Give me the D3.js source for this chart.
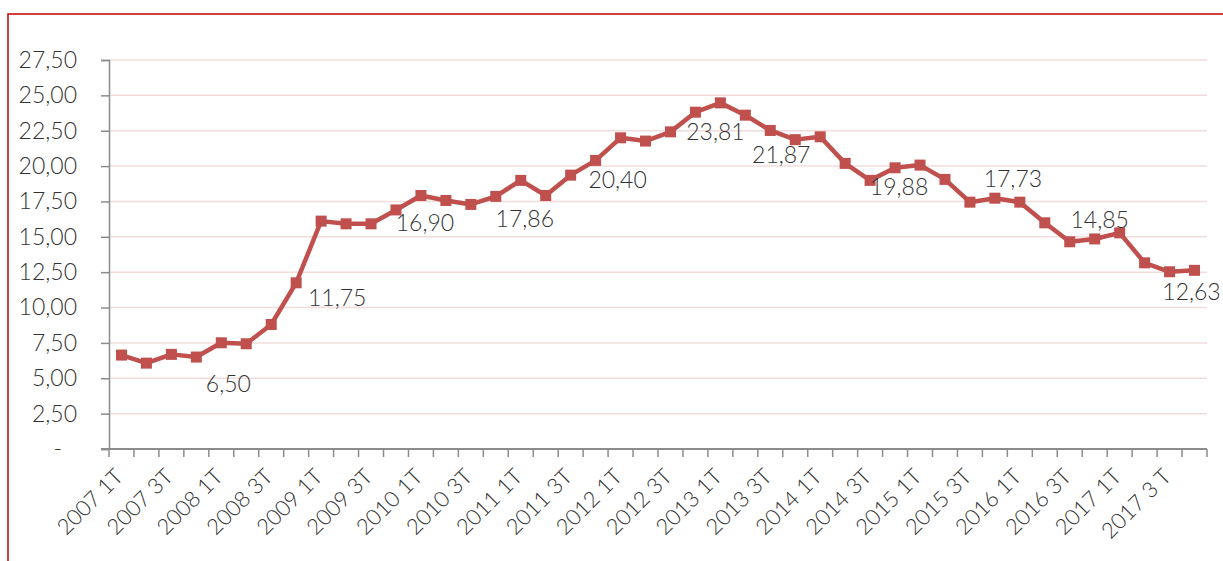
<!DOCTYPE html>
<html>
<head>
<meta charset="utf-8">
<script src="https://cdn.jsdelivr.net/npm/d3@7"></script>
<style>
  body { margin: 0; background: #fff; }
  svg text { font-family: Lato, "Open Sans", sans-serif; font-weight: 300; fill: #333; }
</style>
</head>
<body>
<div id="chart"></div>
<script>
// quarterly series, 2007 1T .. 2017 4T
const categories = [
  "2007 1T","2007 2T","2007 3T","2007 4T","2008 1T","2008 2T","2008 3T","2008 4T",
  "2009 1T","2009 2T","2009 3T","2009 4T","2010 1T","2010 2T","2010 3T","2010 4T",
  "2011 1T","2011 2T","2011 3T","2011 4T","2012 1T","2012 2T","2012 3T","2012 4T",
  "2013 1T","2013 2T","2013 3T","2013 4T","2014 1T","2014 2T","2014 3T","2014 4T",
  "2015 1T","2015 2T","2015 3T","2015 4T","2016 1T","2016 2T","2016 3T","2016 4T",
  "2017 1T","2017 2T","2017 3T","2017 4T"
];

const values = [
  6.64, 6.07, 6.69, 6.50, 7.51, 7.44, 8.80, 11.75,
  16.11, 15.92, 15.92, 16.90, 17.92, 17.57, 17.29, 17.86,
  18.99, 17.92, 19.36, 20.40, 22.00, 21.77, 22.42, 23.81,
  24.47, 23.60, 22.52, 21.87, 22.07, 20.19, 18.99, 19.88,
  20.07, 19.06, 17.45, 17.73, 17.45, 15.99, 14.65, 14.85,
  15.28, 13.16, 12.53, 12.63
];

// every other category carries a label on the axis
const tickCategories = categories.filter((d, i) => i % 2 === 0);
const tickLabels = [
  "2007 1T","2007 3T","2008 1T","2008 3T","2009 1T","2009 3T","2010 1T","2010 3T",
  "2011 1T","2011 3T","2012 1T","2012 3T","2013 1T","2013 3T","2014 1T","2014 3T",
  "2015 1T","2015 3T","2016 1T","2016 3T","2017 1T","2017 3 T"
];

const yTicks = [0, 2.5, 5, 7.5, 10, 12.5, 15, 17.5, 20, 22.5, 25, 27.5];

// data labels on the 4T of every year
const labelled = ["2007 4T","2008 4T","2009 4T","2010 4T","2011 4T","2012 4T",
                  "2013 4T","2014 4T","2015 4T","2016 4T","2017 4T"];

// manual label nudges (px), as placed in the original chart
const labelNudge = {
  "2007 4T": [32, 27], "2008 4T": [41, 15], "2009 4T": [29, 13], "2010 4T": [29, 22],
  "2011 4T": [22, 19], "2012 4T": [20, 20], "2013 4T": [-14, 15], "2014 4T": [4, 19],
  "2015 4T": [18, -19], "2016 4T": [5, -19], "2017 4T": [-3, 21]
};

const width = 1223, height = 561;
const margin = { top: 60, right: 16, bottom: 112, left: 109 };

const locale = d3.formatLocale({ decimal: ",", thousands: ".", grouping: [3], currency: ["", "€"] });
const fmt = locale.format(".2f");

const svg = d3.select("#chart").append("svg")
  .attr("width", width)
  .attr("height", height);

// red frame, runs off the right and bottom edges
svg.append("rect")
  .attr("x", 8).attr("y", 14)
  .attr("width", width + 50).attr("height", height + 50)
  .attr("fill", "none")
  .attr("stroke", "#c00000")
  .attr("stroke-width", 1.5);

const x = d3.scaleBand()
  .domain(categories)
  .range([margin.left, width - margin.right])
  .paddingInner(0).paddingOuter(0);

const y = d3.scaleLinear()
  .domain([0, 27.5])
  .range([height - margin.bottom, margin.top]);

const cx = d => x(d) + x.bandwidth() / 2;

// gridlines
svg.append("g")
  .selectAll("line")
  .data(yTicks.filter(d => d > 0))
  .join("line")
  .attr("x1", margin.left).attr("x2", width - margin.right)
  .attr("y1", d => y(d)).attr("y2", d => y(d))
  .attr("stroke", "#f2dcdb")
  .attr("stroke-width", 1.5);

// y axis
const yAxis = svg.append("g")
  .attr("transform", `translate(${margin.left},0)`)
  .call(d3.axisLeft(y).tickValues(yTicks).tickSize(8).tickPadding(24)
    .tickFormat(d => d === 0 ? "-" : fmt(d)));
yAxis.select(".domain").attr("stroke", "#8c8c8c").attr("stroke-width", 1.5);
yAxis.selectAll(".tick line").attr("stroke", "#8c8c8c").attr("stroke-width", 1.5);
yAxis.selectAll(".tick text")
  .style("font-size", "23px")
  .attr("dx", d => d === 0 ? -15 : 0);

// x axis: ticks at category boundaries
const xBase = y(0);
const boundaries = categories.map(d => x(d)).concat([x(categories[categories.length - 1]) + x.bandwidth()]);
const xAxisG = svg.append("g");
xAxisG.append("line")
  .attr("x1", margin.left - 8).attr("x2", width - margin.right)
  .attr("y1", xBase).attr("y2", xBase)
  .attr("stroke", "#8c8c8c").attr("stroke-width", 2);
xAxisG.selectAll(".bt")
  .data(boundaries)
  .join("line")
  .attr("class", "bt")
  .attr("x1", d => d).attr("x2", d => d)
  .attr("y1", xBase).attr("y2", xBase + 8)
  .attr("stroke", "#8c8c8c").attr("stroke-width", 1.5);

// x labels
svg.append("g")
  .attr("transform", `translate(0,${xBase})`)
  .call(d3.axisBottom(x).tickValues(tickCategories).tickSize(0)
    .tickFormat((d, i) => tickLabels[i]))
  .call(g => g.select(".domain").remove())
  .selectAll("text")
    .style("font-size", "22px")
    .attr("text-anchor", "end")
    .attr("x", 0).attr("y", 0).attr("dy", 0)
    .attr("transform", "translate(3,29) rotate(-45)");

// line
const line = d3.line()
  .x((d, i) => cx(categories[i]))
  .y(d => y(d));

svg.append("path")
  .datum(values)
  .attr("fill", "none")
  .attr("stroke", "#c0504d")
  .attr("stroke-width", 4.5)
  .attr("stroke-linejoin", "round")
  .attr("d", line);

const ms = 11;
svg.append("g")
  .selectAll("rect")
  .data(values)
  .join("rect")
  .attr("x", (d, i) => cx(categories[i]) - ms / 2)
  .attr("y", d => y(d) - ms / 2)
  .attr("width", ms).attr("height", ms)
  .attr("fill", "#c0504d");

// data labels
svg.append("g")
  .selectAll("text")
  .data(labelled)
  .join("text")
  .attr("x", d => cx(d) + labelNudge[d][0])
  .attr("y", d => y(values[categories.indexOf(d)]) + labelNudge[d][1])
  .attr("dy", "0.36em")
  .attr("text-anchor", "middle")
  .style("font-size", "23px")
  .text(d => fmt(values[categories.indexOf(d)]));
</script>
</body>
</html>
